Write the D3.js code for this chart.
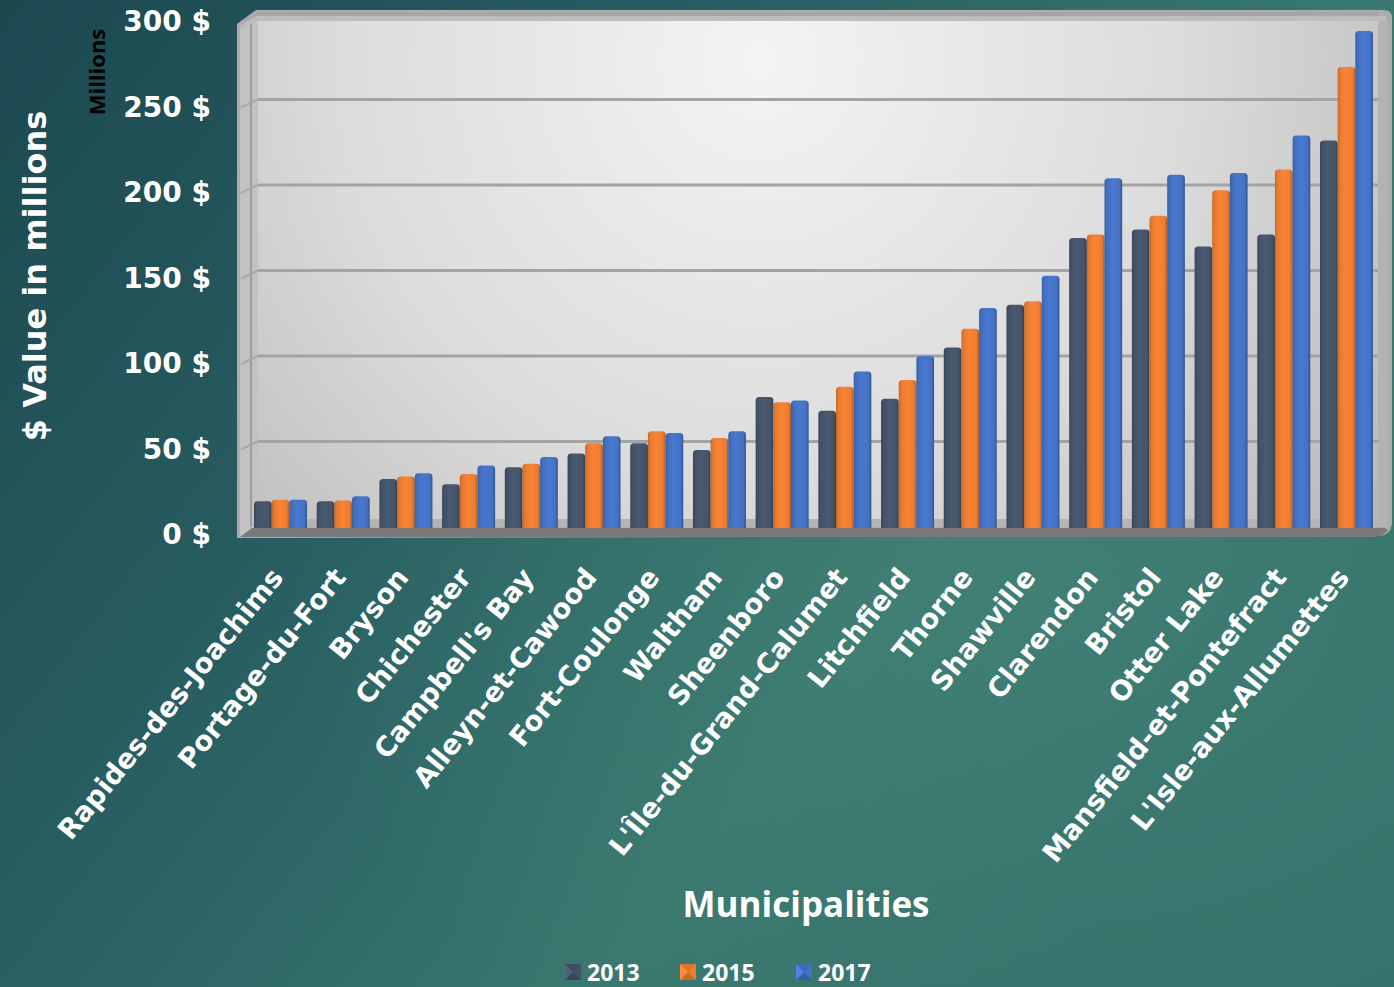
<!DOCTYPE html>
<html>
<head>
<meta charset="utf-8">
<script src="https://cdn.jsdelivr.net/npm/d3@7"></script>
<style>
  html, body { margin: 0; padding: 0; background: #22555a; }
  svg { display: block; }
</style>
</head>
<body>
<svg id="chart" width="1394" height="987"></svg>
<script>
// Municipal property values, in millions of dollars
const categories = [
  "Rapides-des-Joachims", "Portage-du-Fort", "Bryson", "Chichester",
  "Campbell's Bay", "Alleyn-et-Cawood", "Fort-Coulonge", "Waltham",
  "Sheenboro", "L'Île-du-Grand-Calumet", "Litchfield", "Thorne",
  "Shawville", "Clarendon", "Bristol", "Otter Lake",
  "Mansfield-et-Pontefract", "L'Isle-aux-Allumettes"
];
const seriesNames = ["2013", "2015", "2017"];
const values2013 = [15, 15, 28, 25, 35, 43, 49, 45, 76, 68, 75, 105, 130, 169, 174, 164, 171, 226];
const values2015 = [16, 15.5, 29.5, 31, 37, 49, 56, 52, 73, 82, 86, 116, 132, 171, 182, 197, 209, 269];
const values2017 = [16, 18, 31.5, 36, 41, 53, 55, 56, 74, 91, 100, 128, 147, 204, 206, 207, 229, 290];
const yTicks = [0, 50, 100, 150, 200, 250, 300];
const seriesColors = ["#44546a", "#ed7d31", "#4472c4"];

const seriesValues = [values2013, values2015, values2017];

const W = 1394, H = 987;
const svg = d3.select("#chart");
const defs = svg.append("defs");

const wideFont = "'DejaVu Sans', Verdana, sans-serif";
const plainFont = "'Open Sans', 'Noto Sans', sans-serif";

// ---- background ----
const bg = defs.append("linearGradient").attr("id", "bg")
  .attr("x1", "0").attr("y1", "0").attr("x2", "1").attr("y2", "0.55");
bg.append("stop").attr("offset", "0").attr("stop-color", "#1c4850");
bg.append("stop").attr("offset", "0.45").attr("stop-color", "#2a6163");
bg.append("stop").attr("offset", "0.75").attr("stop-color", "#3a786f");
bg.append("stop").attr("offset", "1").attr("stop-color", "#34716b");
svg.append("rect").attr("width", W).attr("height", H).attr("fill", "url(#bg)");
const glow = defs.append("radialGradient").attr("id", "glow")
  .attr("cx", "0.75").attr("cy", "0.6").attr("r", "0.55");
glow.append("stop").attr("offset", "0").attr("stop-color", "#4a8a7c").attr("stop-opacity", 0.45);
glow.append("stop").attr("offset", "1").attr("stop-color", "#4a8a7c").attr("stop-opacity", 0);
svg.append("rect").attr("width", W).attr("height", H).attr("fill", "url(#glow)");

// ---- scales ----
const y = d3.scaleLinear().domain([0, 300]).range([527, 14]);
const x = d3.scaleBand().domain(categories).range([249, 1378])
  .paddingInner(0.155).paddingOuter(0.08);
const xs = d3.scaleBand().domain(seriesNames).range([0, x.bandwidth()]).padding(0);

// ---- 3D walls ----
const plotL = 258, plotR = 1378, plotB = y(0);

const wall = defs.append("radialGradient").attr("id", "wall")
  .attr("gradientUnits", "userSpaceOnUse")
  .attr("cx", 760).attr("cy", 60).attr("r", 760);
wall.append("stop").attr("offset", "0").attr("stop-color", "#f4f4f4");
wall.append("stop").attr("offset", "0.55").attr("stop-color", "#dcdcdc");
wall.append("stop").attr("offset", "1").attr("stop-color", "#b9b9b9");

// outer frame (top bevel + side walls)
svg.append("path")
  .attr("d", `M237,24 L256,10 L1384,10 Q1392,10 1392,18 L1392,522 Q1392,534 1380,536 L240,538 L237,538 Z`)
  .attr("fill", "#acacac");
svg.append("path")
  .attr("d", `M240,26 L256,16 L1386,16 L1386,24 L258,24 L240,34 Z`)
  .attr("fill", "#bdbdbd");
// left side wall
svg.append("path")
  .attr("d", `M240,30 L258,21 L258,${plotB} L240,${plotB + 10} Z`)
  .attr("fill", "#c2c2c2");
// back wall
svg.append("rect")
  .attr("x", plotL).attr("y", 21).attr("width", plotR - plotL).attr("height", plotB - 21)
  .attr("fill", "url(#wall)");
// right wall edge
svg.append("rect")
  .attr("x", plotR).attr("y", 21).attr("width", 10).attr("height", plotB - 21)
  .attr("fill", "#b3b3b3");
// inner corner line of the left wall
svg.append("line")
  .attr("x1", 251).attr("x2", 251).attr("y1", 24).attr("y2", plotB)
  .attr("stroke", "#9c9c9c").attr("stroke-width", 2);

// gridlines
svg.append("g").selectAll("line").data(yTicks.filter(d => d > 0)).join("line")
  .attr("x1", plotL).attr("x2", plotR)
  .attr("y1", d => y(d)).attr("y2", d => y(d))
  .attr("stroke", "#a3a3a3").attr("stroke-width", 3);
svg.append("g").selectAll("line").data(yTicks.filter(d => d > 0)).join("line")
  .attr("x1", 241).attr("x2", 258)
  .attr("y1", d => y(d) + 8).attr("y2", d => y(d))
  .attr("stroke", "#a9a9a9").attr("stroke-width", 2);

// light band at the foot of the back wall
svg.append("rect")
  .attr("x", plotL).attr("y", plotB - 8).attr("width", plotR - plotL).attr("height", 8)
  .attr("fill", "#b4b4b4");

// ---- bars ----
seriesColors.forEach((c, i) => {
  const g = defs.append("linearGradient").attr("id", "bar" + i)
    .attr("x1", "0").attr("x2", "1").attr("y1", "0").attr("y2", "0");
  const base = d3.color(c);
  g.append("stop").attr("offset", "0").attr("stop-color", base.darker(0.6));
  g.append("stop").attr("offset", "0.12").attr("stop-color", base.darker(0.1));
  g.append("stop").attr("offset", "0.45").attr("stop-color", base.brighter(0.15));
  g.append("stop").attr("offset", "0.85").attr("stop-color", base);
  g.append("stop").attr("offset", "1").attr("stop-color", base.darker(0.9));
});

function barPath(x0, w, top, bottom) {
  const r = 3.5;
  return `M${x0},${bottom} L${x0},${top + r} Q${x0},${top} ${x0 + r},${top}
          L${x0 + w - r},${top} Q${x0 + w},${top} ${x0 + w},${top + r} L${x0 + w},${bottom} Z`;
}

const barData = [];
categories.forEach((cat, ci) => {
  seriesNames.forEach((s, si) => {
    barData.push({ cat, series: s, si, value: seriesValues[si][ci] });
  });
});

svg.append("g").selectAll("path").data(barData).join("path")
  .attr("d", d => barPath(x(d.cat) + xs(d.series), xs.bandwidth(), y(d.value), plotB + 1))
  .attr("fill", d => `url(#bar${d.si})`);

// ---- floor ----
svg.append("path")
  .attr("d", `M240,${plotB + 10} L252,${plotB + 1} L1376,${plotB + 1} Q1386,${plotB} 1388,${plotB + 3} Q1384,${plotB + 9} 1374,${plotB + 10} Z`)
  .attr("fill", "#7b7979");

// ---- y axis ----
const yAxis = d3.axisLeft(y).tickValues(yTicks).tickSize(0).tickPadding(0)
  .tickFormat(d => d + " $");
const yg = svg.append("g").attr("transform", "translate(211,8)").call(yAxis);
yg.select(".domain").remove();
yg.selectAll("text")
  .attr("fill", "#ffffff")
  .attr("font-family", wideFont)
  .attr("font-weight", 700)
  .attr("font-size", 28);

// ---- x axis labels ----
svg.append("g").selectAll("text").data(categories).join("text")
  .attr("transform", d => `translate(${x(d) + x.bandwidth() / 2 + 4},578) rotate(-51)`)
  .attr("text-anchor", "end")
  .attr("fill", "#ffffff")
  .attr("font-family", wideFont)
  .attr("font-weight", 700)
  .attr("font-size", 27.5)
  .text(d => d);

// ---- axis titles ----
svg.append("text")
  .attr("transform", "translate(46,276) rotate(-90)")
  .attr("text-anchor", "middle")
  .attr("fill", "#ffffff")
  .attr("font-family", wideFont)
  .attr("font-weight", 700)
  .attr("font-size", 32)
  .text("$ Value in millions");

svg.append("text")
  .attr("transform", "translate(105,72) rotate(-90)")
  .attr("text-anchor", "middle")
  .attr("fill", "#000000")
  .attr("font-family", plainFont)
  .attr("font-weight", 700)
  .attr("font-size", 22)
  .text("Millions");

svg.append("text")
  .attr("x", 806).attr("y", 917)
  .attr("text-anchor", "middle")
  .attr("fill", "#ffffff")
  .attr("font-family", plainFont)
  .attr("font-weight", 700)
  .attr("font-size", 35)
  .text("Municipalities");

// ---- legend ----
const legendX = [565, 680, 796];
const lg = svg.append("g").selectAll("g").data(seriesNames).join("g")
  .attr("transform", (d, i) => `translate(${legendX[i]},964)`);
lg.each(function(d, i) {
  const g = d3.select(this);
  const c = d3.color(seriesColors[i]);
  const s = 16;
  g.append("rect").attr("width", s).attr("height", s).attr("fill", c.darker(0.5));
  g.append("path").attr("d", `M0,0 L${s},0 L${s / 2},${s / 2} Z`).attr("fill", c.darker(0.2));
  g.append("path").attr("d", `M0,0 L${s / 2},${s / 2} L0,${s} Z`).attr("fill", c.brighter(0.4));
  g.append("path").attr("d", `M${s},0 L${s},${s} L${s / 2},${s / 2} Z`).attr("fill", c);
  g.append("text")
    .attr("x", 22).attr("y", 17)
    .attr("fill", "#ffffff")
    .attr("font-family", plainFont)
    .attr("font-weight", 700)
    .attr("font-size", 23)
    .text(d);
});
</script>
</body>
</html>
